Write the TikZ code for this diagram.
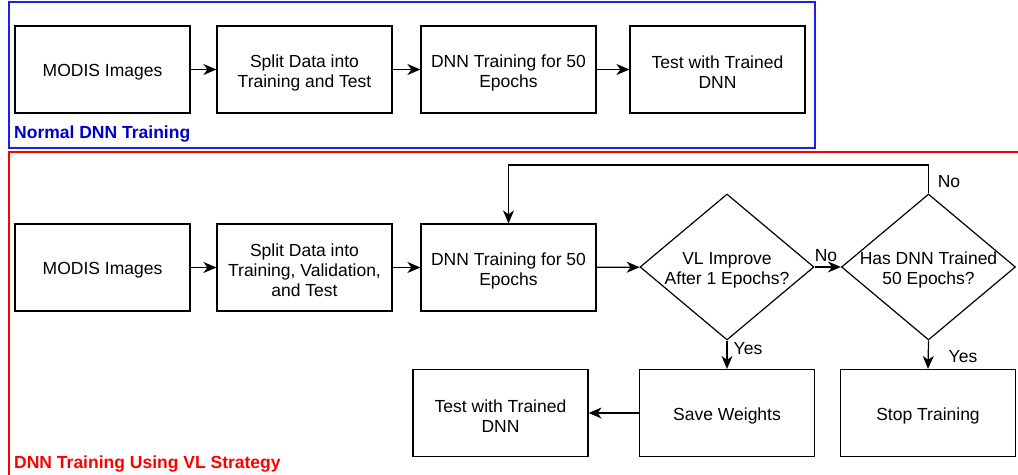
\documentclass[tikz,border=0pt]{standalone}
\usepackage{fontspec}
\setmainfont{Liberation Sans}
\usetikzlibrary{shapes.geometric,arrows.meta}
\begin{document}
\begin{tikzpicture}[x=1bp,y=-1bp,
  every node/.style={font=\fontsize{17.5bp}{20bp}\selectfont},
  box/.style={draw, line width=1.2bp, minimum width=175bp, minimum height=87bp, inner sep=0pt},
  dia/.style={draw, line width=1.2bp, diamond, shape aspect=1.19, minimum width=174bp, minimum height=146bp, inner sep=0pt},
  txt/.style={align=center, inner sep=0pt, yshift=-3bp},
  arr/.style={line width=1.2bp, -{Stealth[length=13bp,width=11bp,inset=4bp]}},
  lbl/.style={inner sep=0pt},
  grp/.style={line width=1.3bp}]
\useasboundingbox (0,0) rectangle (1018,475);
\clip (0,0) rectangle (1018,475);
% group frames
\draw[grp, draw={rgb,255:red,30;green,30;blue,230}] (9,2) rectangle (815,148);
\draw[grp, draw={rgb,255:red,255;green,0;blue,0}] (1040,152) -- (9,152) -- (9,500);
\node[lbl, anchor=west, text={rgb,255:red,0;green,0;blue,204}, font=\fontsize{17.5bp}{20bp}\selectfont\bfseries] (gl1) at (14,134.5) {Normal DNN Training};
\node[lbl, anchor=west, text={rgb,255:red,255;green,0;blue,0}, font=\fontsize{17.5bp}{20bp}\selectfont\bfseries] (gl2) at (14,464.5) {DNN Training Using VL Strategy};
% top row
\node[box] (a1) at (102.5,69.5) {};
\node[txt] (a1t) at (a1) {MODIS Images};
\node[box] (a2) at (304.5,69.5) {};
\node[txt] (a2t) at (a2) {Split Data into\\Training and Test};
\node[box] (a3) at (508.5,69.5) {};
\node[txt] (a3t) at (a3) {DNN Training for 50\\Epochs};
\node[box] (a4) at (717.5,69.5) {};
\node[txt] (a4t) at (a4) {Test with Trained\\DNN};
\draw[arr] (a1) -- (a2);
\draw[arr] (a2) -- (a3);
\draw[arr] (a3) -- (a4);
% bottom
\node[box] (b1) at (102.5,267.5) {};
\node[txt] (b1t) at (b1) {MODIS Images};
\node[box] (b2) at (304.5,267.5) {};
\node[txt] (b2t) at (b2) {Split Data into\\Training, Validation,\\and Test};
\node[box] (b3) at (508.5,267.5) {};
\node[txt] (b3t) at (b3) {DNN Training for 50\\Epochs};
\node[dia] (d1) at (727,267) {};
\node[txt] (d1t) at (d1) {VL Improve\\After 1 Epochs?};
\node[dia] (d2) at (928.5,267) {};
\node[txt] (d2t) at (d2) {Has DNN Trained\\50 Epochs?};
\node[box] (sw) at (727,413) {};
\node[txt] (swt) at (sw) {Save Weights};
\node[box] (st) at (928,413) {};
\node[txt] (stt) at (st) {Stop Training};
\node[box] (tt) at (500.5,413) {};
\node[txt] (ttt) at (tt) {Test with Trained\\DNN};
\coordinate (lp) at (0,165);
\draw[arr] (b1) -- (b2);
\draw[arr] (b2) -- (b3);
\draw[arr] (b3) -- (d1);
\draw[arr] (d1) -- (d2);
\draw[arr] (d1.south) -- (sw.north);
\draw[arr] (d2.south) -- (st.north);
\draw[arr] (sw) -- (tt);
\draw[arr] (d2.north) -- (d2.north |- lp) -| (b3.north);
\node[lbl] (n1) at (949,182) {No};
\node[lbl] (n2) at (826,256) {No};
\node[lbl] (y1) at (748,349) {Yes};
\node[lbl] (y2) at (963,357) {Yes};
\end{tikzpicture}
\end{document}
